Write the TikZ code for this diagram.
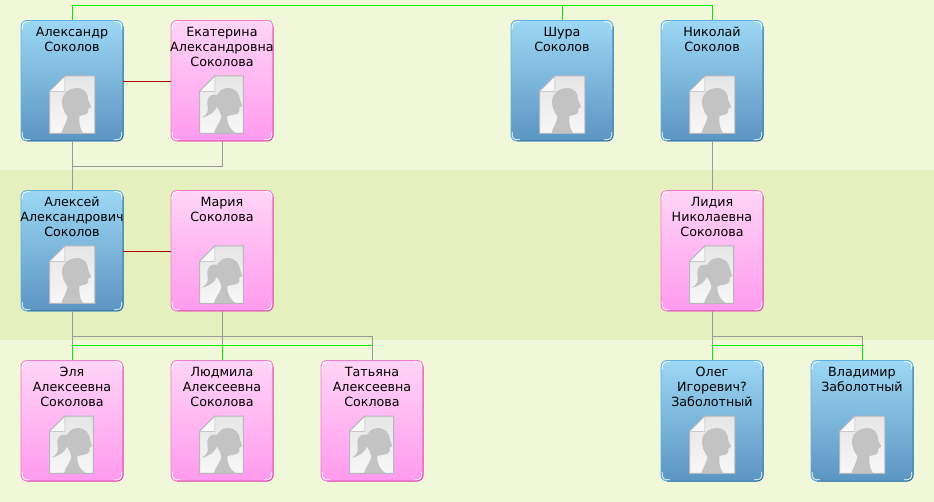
\documentclass[tikz,border=0pt]{standalone}
\usepackage{fontspec}
\setmainfont{DejaVu Sans}
\definecolor{bandA}{HTML}{F1F7D9}
\definecolor{bandB}{HTML}{E5F0BE}
\definecolor{kin}{HTML}{999999}
\definecolor{lineage}{HTML}{00F000}
\definecolor{spouse}{HTML}{A80000}
\definecolor{blueT}{HTML}{9CD7F4}
\definecolor{blueB}{HTML}{5B95C2}
\definecolor{blueL}{HTML}{5FB2E0}
\definecolor{blueD}{HTML}{2A6C9E}
\definecolor{pinkT}{HTML}{FFD5F6}
\definecolor{pinkB}{HTML}{FF9AEE}
\definecolor{pinkL}{HTML}{F27CCB}
\definecolor{pinkD}{HTML}{E04FAE}
\definecolor{sil}{HTML}{C3C3C3}
\definecolor{pageedge}{HTML}{B6B6BE}
\tikzset{
  kinline/.style={draw=kin,line width=0.9pt},
  lineline/.style={draw=lineage,line width=0.9pt},
  spouseline/.style={draw=spouse,line width=0.9pt},
  cardbase/.style={rounded corners=6pt,minimum width=102pt,minimum height=120.5pt,inner sep=0pt,outer sep=0pt,anchor=north west},
  malecard/.style={cardbase,shade,top color=blueT,bottom color=blueB,draw=blueL,line width=0.9pt},
  femalecard/.style={cardbase,shade,top color=pinkT,bottom color=pinkB,draw=pinkL,line width=0.9pt},
  nametext/.style={anchor=north,align=center,inner sep=0pt,text=black,font=\fontsize{12.7}{15}\selectfont},
  pageshape/.style={draw=pageedge,line width=1pt,top color=black!10,bottom color=black!3},
  foldshape/.style={draw=pageedge,line width=0.6pt,fill=black!3},
  cornerglint/.style={white,line width=0.7pt,rounded corners=4pt},
}
% the edge and corner details shared by both kinds of card: #1 name, #2 dark colour
\newcommand{\cardedges}[2]{%
  \draw[#2,line width=1pt,rounded corners=6pt] ([xshift=6pt]#1.south west) -- (#1.south east) -- ([yshift=-6pt]#1.north east);
  \draw[cornerglint] ([shift={(1.3pt,-9pt)}]#1.north west) -- ([shift={(1.3pt,-1.3pt)}]#1.north west) -- ([shift={(9pt,-1.3pt)}]#1.north west);
  \draw[cornerglint] ([shift={(-1.3pt,-9pt)}]#1.north east) -- ([shift={(-1.3pt,-1.3pt)}]#1.north east) -- ([shift={(-9pt,-1.3pt)}]#1.north east);
  \draw[cornerglint] ([shift={(1.3pt,9pt)}]#1.south west) -- ([shift={(1.3pt,1.3pt)}]#1.south west) -- ([shift={(9pt,1.3pt)}]#1.south west);
  \draw[cornerglint] ([shift={(-1.3pt,9pt)}]#1.south east) -- ([shift={(-1.3pt,1.3pt)}]#1.south east) -- ([shift={(-9pt,1.3pt)}]#1.south east);
}
% #1 name, #2 x, #3 y, #4 text
\newcommand{\malecard}[4]{%
  \node[malecard] (#1) at (#2,#3) {};
  \cardedges{#1}{blueD}
  \node[nametext] (#1-name) at ([yshift=-6.5pt]#1.north) {#4};
  \begin{scope}[shift={(#2+28.5,#3+55.5)},x=0.3333pt,y=-0.3333pt]
    \draw[pageshape] (46,0) -- (136,0) -- (136,172) -- (0,172) -- (0,46) -- cycle;
    \draw[foldshape] (46,0) -- (46,46) -- (0,46) -- cycle;
    \fill[sil] (36,171) .. controls (38,158) and (50,145) .. (54,122)
      .. controls (42,105) and (36,90) .. (38,70)
      .. controls (42,48) and (62,36) .. (82,36)
      .. controls (105,36) and (116,52) .. (116,72)
      -- (125,92) -- (117,98) -- (116,108)
      .. controls (112,118) and (100,116) .. (90,120)
      .. controls (88,145) and (92,160) .. (101,171) -- cycle;
  \end{scope}
}
\newcommand{\femalecard}[4]{%
  \node[femalecard] (#1) at (#2,#3) {};
  \cardedges{#1}{pinkD}
  \node[nametext] (#1-name) at ([yshift=-6.5pt]#1.north) {#4};
  \begin{scope}[shift={(#2+28.5,#3+55.5)},x=0.3333pt,y=-0.3333pt]
    \draw[pageshape] (46,0) -- (132,0) -- (132,172) -- (0,172) -- (0,46) -- cycle;
    \draw[foldshape] (46,0) -- (46,46) -- (0,46) -- cycle;
    \fill[sil] (44,171) .. controls (46,155) and (60,145) .. (66,122)
      -- (60,105) -- (52,92)
      .. controls (46,108) and (30,120) .. (7,125)
      .. controls (22,115) and (28,108) .. (24,88)
      .. controls (20,70) and (30,55) .. (44,56)
      .. controls (52,58) and (54,58) .. (56,52)
      .. controls (66,38) and (75,36) .. (84,36)
      .. controls (108,36) and (120,52) .. (122,72)
      -- (128,90) -- (120,95) -- (120,106)
      .. controls (116,116) and (100,116) .. (84,120)
      .. controls (82,145) and (92,160) .. (108,171) -- cycle;
  \end{scope}
}
\begin{document}
\begin{tikzpicture}[x=1pt,y=-1pt]
  \useasboundingbox (0,0) rectangle (934,502);
  \fill[bandA] (0,0) rectangle (934,170);
  \fill[bandB] (0,170) rectangle (934,340);
  \fill[bandA] (0,340) rectangle (934,502);

  \malecard{alex}{21}{20.5}{Александр\\Соколов}
  \femalecard{ekat}{171}{20.5}{Екатерина\\Александровна\\Соколова}
  \malecard{shura}{511}{20.5}{Шура\\Соколов}
  \malecard{nikol}{661}{20.5}{Николай\\Соколов}
  \malecard{alexei}{21}{190.5}{Алексей\\Александрович\\Соколов}
  \femalecard{maria}{171}{190.5}{Мария\\Соколова}
  \femalecard{lidia}{661}{190.5}{Лидия\\Николаевна\\Соколова}
  \femalecard{elya}{21}{360.5}{Эля\\Алексеевна\\Соколова}
  \femalecard{lyud}{171}{360.5}{Людмила\\Алексеевна\\Соколова}
  \femalecard{tat}{321}{360.5}{Татьяна\\Алексеевна\\Соклова}
  \malecard{oleg}{661}{360.5}{Олег\\Игоревич?\\Заболотный}
  \malecard{vlad}{811}{360.5}{Владимир\\Заболотный}

  % junction points
  \coordinate (top) at (0,5.5);
  \coordinate (g1) at (0,166.5);
  \coordinate (kinR) at (0,336.5);
  \coordinate (linR) at (0,345.5);

  % lineage lines (green)
  \draw[lineline] (alex.north) -- (alex.north |- top) -- (nikol.north |- top) -- (nikol.north);
  \draw[lineline] (shura.north) -- (shura.north |- top);
  \draw[lineline] (elya.north) -- (elya.north |- linR) -- (tat.north |- linR);
  \draw[lineline] (lyud.north) -- (lyud.north |- linR);
  \draw[lineline] (oleg.north) -- (oleg.north |- linR) -- (vlad.north |- linR) -- (vlad.north);

  % kin lines (grey)
  \draw[kinline] (alex.south) -- (alexei.north);
  \draw[kinline] (alex.south |- g1) -- (ekat.south |- g1) -- (ekat.south);
  \draw[kinline] (nikol.south) -- (lidia.north);
  \draw[kinline] (alexei.south) -- (alexei.south |- linR);
  \draw[kinline] (maria.south) -- (maria.south |- linR);
  \draw[kinline] (alexei.south |- kinR) -- (tat.north |- kinR) -- (tat.north);
  \draw[kinline] (lidia.south) -- (lidia.south |- linR);
  \draw[kinline] (lidia.south |- kinR) -- (vlad.north |- kinR) -- (vlad.north |- linR);

  % spouse lines
  \draw[spouseline] (alex.east |- 0,81) -- (ekat.west |- 0,81);
  \draw[spouseline] (alexei.east |- 0,251) -- (maria.west |- 0,251);
\end{tikzpicture}
\end{document}
